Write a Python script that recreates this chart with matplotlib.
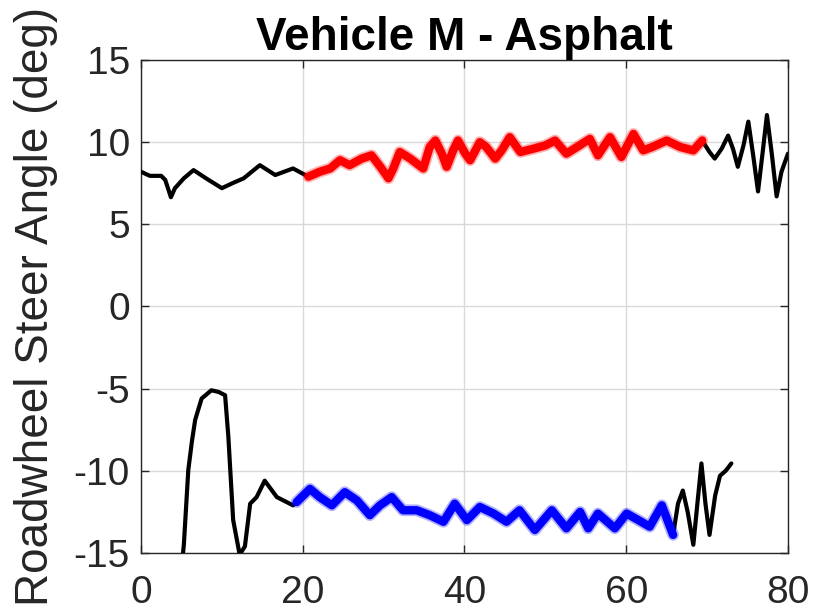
import matplotlib
matplotlib.use("Agg")
import matplotlib.pyplot as plt

plt.rcParams['font.family'] = ['Liberation Sans', 'DejaVu Sans']
plt.rcParams['axes.unicode_minus'] = False

TEXT = "#262626"
GRID = "#d9d9d9"

# upper wheel: black before and after the manoeuvre, red during
up_pre_x = [0, 1.1, 2.5, 3.0, 3.7, 4.2, 5.3, 6.5, 8.2, 10.0, 11.3, 12.7, 14.7, 16.6, 18.8, 20.7]
up_pre_y = [8.2, 7.95, 7.95, 7.7, 6.65, 7.2, 7.8, 8.3, 7.75, 7.2, 7.5, 7.8, 8.6, 8.0, 8.4, 7.9]

red_x = [20.7, 22.1, 23.4, 24.6, 25.8, 27.3, 28.5, 29.6, 30.6, 31.2, 32.0, 33.3, 34.9, 35.7,
         36.4, 37.2, 37.8, 38.6, 39.2, 40.1, 40.7, 41.9, 42.7, 43.8, 44.6, 45.6, 46.9, 48.5,
         50.0, 51.2, 52.6, 53.9, 55.5, 56.5, 58.0, 59.4, 60.9, 62.1, 63.2, 65.0, 66.7, 68.3,
         69.4]
red_y = [7.9, 8.2, 8.4, 8.9, 8.6, 9.0, 9.2, 8.5, 7.8, 8.4, 9.4, 9.0, 8.4, 9.7,
         10.1, 9.3, 8.5, 9.5, 10.1, 9.3, 8.9, 10.0, 9.7, 9.0, 9.5, 10.3, 9.4, 9.6,
         9.8, 10.1, 9.3, 9.7, 10.2, 9.2, 10.3, 9.1, 10.5, 9.5, 9.7, 10.1, 9.7, 9.5,
         10.1]

up_post_x = [69.4, 70.3, 70.95, 71.8, 72.6, 73.2, 73.8, 74.5, 75.1, 75.7, 76.3, 76.9, 77.4,
             78.0, 78.6, 79.2, 80.0]
up_post_y = [10.1, 9.4, 9.0, 9.6, 10.4, 9.6, 8.5, 9.8, 11.25, 9.2, 7.0, 9.5, 11.65,
             9.3, 6.7, 8.2, 9.3]

# lower wheel: black before and after, blue during
lo_pre_x = [5.0, 5.3, 5.85, 6.3, 6.7, 7.5, 8.7, 9.6, 10.4, 10.8, 11.4, 12.2, 12.85, 13.5,
            14.3, 15.3, 16.8, 18.8, 19.25]
lo_pre_y = [-16, -14.5, -9.95, -8.2, -6.9, -5.6, -5.1, -5.2, -5.4, -7.9, -13.0, -15.1, -14.6, -12.0,
            -11.6, -10.6, -11.6, -12.1, -11.9]

blue_x = [19.25, 20.9, 22.1, 23.6, 25.2, 26.7, 28.3, 29.55, 31.0, 32.4, 34.1, 35.7, 37.4, 38.8,
          40.3, 41.9, 43.6, 45.2, 46.8, 48.7, 50.8, 52.6, 54.3, 55.3, 56.5, 58.6, 60.05, 61.5,
          62.9, 64.4, 65.8]
blue_y = [-11.9, -11.1, -11.6, -12.1, -11.3, -11.8, -12.7, -12.1, -11.6, -12.4, -12.4, -12.7, -13.1, -12.0,
          -13.0, -12.2, -12.6, -13.1, -12.4, -13.6, -12.4, -13.5, -12.5, -13.5, -12.6, -13.5, -12.6, -13.0,
          -13.4, -12.1, -13.9]

lo_post_x = [65.8, 66.4, 67.0, 67.6, 68.3, 68.8, 69.3, 69.8, 70.3, 71.0, 71.6, 72.3, 73.0]
lo_post_y = [-13.9, -12.0, -11.2, -12.5, -14.5, -12.0, -9.55, -12.0, -13.9, -11.5, -10.3, -10.0, -9.55]

xticks = [0, 20, 40, 60, 80]
yticks = [-15, -10, -5, 0, 5, 10, 15]

fig = plt.figure(figsize=(8.14, 6.16), dpi=100)
ax = fig.add_axes([0.1732, 0.1023, 0.7948, 0.8003])

# black segments
for xs, ys in [(up_pre_x, up_pre_y), (up_post_x, up_post_y), (lo_pre_x, lo_pre_y), (lo_post_x, lo_post_y)]:
    ax.plot(xs, ys, color='black', lw=3.0, solid_joinstyle='round', solid_capstyle='round', zorder=3)

# noisy bands: soft halo plus solid core
for xs, ys, c in [(red_x, red_y, '#ff0000'), (blue_x, blue_y, '#0000ff')]:
    ax.plot(xs, ys, color=c, lw=8.5, alpha=0.3, solid_joinstyle='round', solid_capstyle='round', zorder=4)
    ax.plot(xs, ys, color=c, lw=6.0, solid_joinstyle='round', solid_capstyle='round', zorder=4)

ax.set_xlim(0, 80)
ax.set_ylim(-15, 15)
ax.set_xticks(xticks)
ax.set_yticks(yticks)
ax.grid(True, color=GRID, lw=1.0)
ax.set_axisbelow(True)

for s in ax.spines.values():
    s.set_color(TEXT)
    s.set_linewidth(1.0)

ax.tick_params(direction='in', length=6, width=1.0, colors=TEXT, labelsize=28,
               top=True, right=True)
ax.tick_params(axis='x', pad=16)
ax.tick_params(axis='y', pad=8)

ax.set_title("Vehicle M - Asphalt", fontsize=33, fontweight='bold', color='black', pad=7)
ax.set_ylabel("Roadwheel Steer Angle (deg)", fontsize=33, color=TEXT)
ax.yaxis.set_label_coords(-0.128, 0.5)

fig.savefig("out.png", dpi=100)
